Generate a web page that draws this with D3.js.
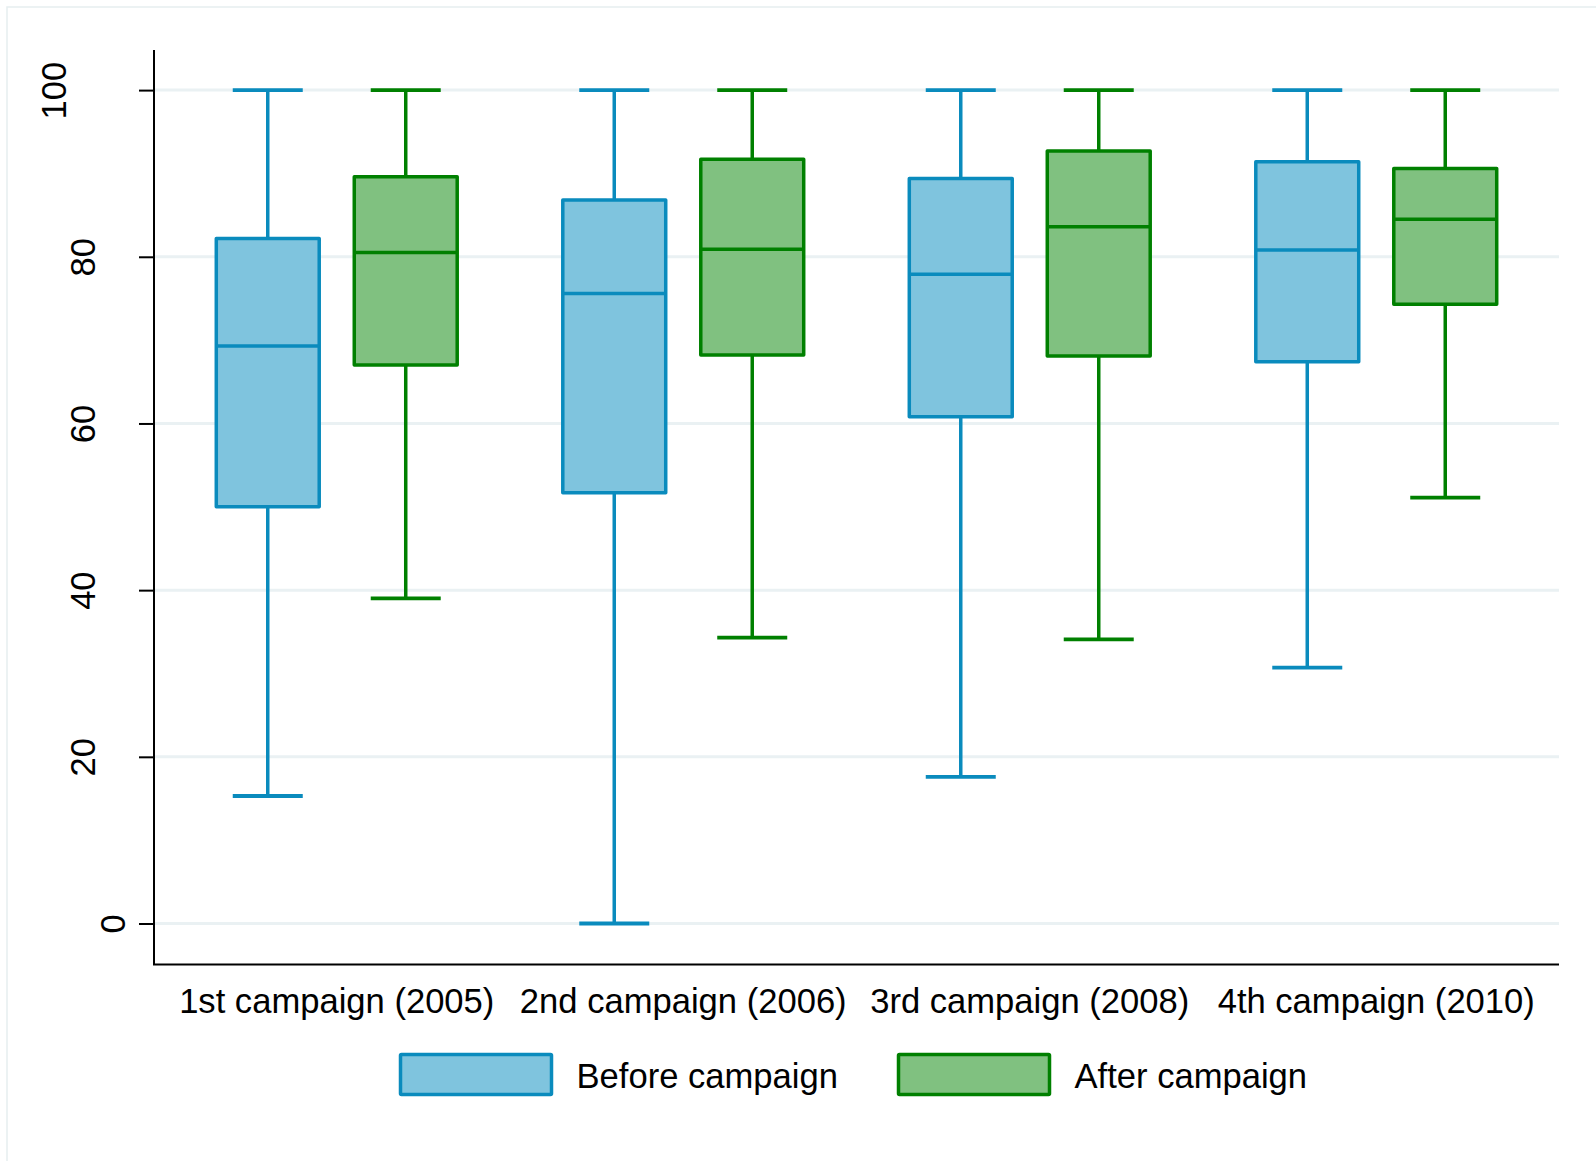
<!DOCTYPE html>
<html>
<head>
<meta charset="utf-8">
<script src="https://cdn.jsdelivr.net/npm/d3@7"></script>
<style>
  html, body { margin: 0; padding: 0; background: #fff; }
  svg { display: block; font-family: "Liberation Sans", Arial, sans-serif; }
</style>
</head>
<body>
<svg id="chart" width="1596" height="1161"></svg>
<script>
// Campaign groups and the two measurement series
const categories = ["1st campaign (2005)", "2nd campaign (2006)", "3rd campaign (2008)", "4th campaign (2010)"];
const seriesNames = ["Before campaign", "After campaign"];

// Box-plot statistics, one value per campaign
const beforeMin = [15.3, 0, 17.6, 30.7];
const beforeQ1  = [50.0, 51.7, 60.8, 67.4];
const beforeMed = [69.3, 75.6, 77.9, 80.8];
const beforeQ3  = [82.2, 86.8, 89.4, 91.4];
const beforeMax = [100, 100, 100, 100];

const afterMin = [39.0, 34.3, 34.1, 51.1];
const afterQ1  = [67.0, 68.2, 68.1, 74.3];
const afterMed = [80.5, 80.9, 83.6, 84.5];
const afterQ3  = [89.6, 91.7, 92.7, 90.6];
const afterMax = [100, 100, 100, 100];

const yTicks = [0, 20, 40, 60, 80, 100];

// Assemble per-box records for drawing
const seriesStats = [
  { name: seriesNames[0], min: beforeMin, q1: beforeQ1, med: beforeMed, q3: beforeQ3, max: beforeMax },
  { name: seriesNames[1], min: afterMin, q1: afterQ1, med: afterMed, q3: afterQ3, max: afterMax }
];
const boxes = [];
categories.forEach((cat, i) => {
  seriesStats.forEach(s => {
    boxes.push({ cat, series: s.name, min: s.min[i], q1: s.q1[i], med: s.med[i], q3: s.q3[i], max: s.max[i] });
  });
});

const style = {
  "Before campaign": { fill: "#7fc4de", stroke: "#0a8bbd" },
  "After campaign":  { fill: "#80c180", stroke: "#008000" }
};

const fontSize = 34.6;
const svg = d3.select("#chart");

// Light outer frame of the graph region
svg.append("rect")
  .attr("x", 7).attr("y", 7).attr("width", 1620).attr("height", 1200)
  .attr("fill", "#fff").attr("stroke", "#e6eef0").attr("stroke-width", 1.5);

const plotLeft = 154, plotRight = 1559, axisTop = 50, axisBottom = 964.5;

const x = d3.scaleBand().domain(categories).range([plotLeft, plotRight])
  .paddingInner(0).paddingOuter(0.0274);
const xs = d3.scaleBand().domain(seriesNames).range([0, x.bandwidth()])
  .paddingInner(0.254).paddingOuter(0.3826);
const y = d3.scaleLinear().domain([0, 100]).range([923.5, 90.1]);

// Horizontal grid lines
svg.append("g")
  .selectAll("line")
  .data(yTicks)
  .join("line")
  .attr("x1", plotLeft).attr("x2", plotRight)
  .attr("y1", d => y(d)).attr("y2", d => y(d))
  .attr("stroke", "#eaf1f3").attr("stroke-width", 3);

// Y axis with rotated labels
const yAxis = svg.append("g")
  .attr("transform", `translate(${plotLeft},0)`)
  .call(d3.axisLeft(y).tickValues(yTicks).tickSize(15).tickFormat(d3.format("d")));
yAxis.select(".domain").remove();
yAxis.selectAll(".tick line").attr("stroke", "#000").attr("stroke-width", 2);
yAxis.selectAll(".tick text")
  .attr("x", null).attr("dy", null)
  .attr("fill", "#000")
  .attr("font-size", fontSize)
  .attr("text-anchor", "middle")
  .attr("transform", d => `translate(${-29.3 * String(d).length},0) rotate(-90)`);

// Axis lines
svg.append("line")
  .attr("x1", plotLeft).attr("x2", plotLeft)
  .attr("y1", axisTop).attr("y2", axisBottom)
  .attr("stroke", "#000").attr("stroke-width", 2);
svg.append("line")
  .attr("x1", plotLeft - 1).attr("x2", plotRight)
  .attr("y1", axisBottom).attr("y2", axisBottom)
  .attr("stroke", "#000").attr("stroke-width", 2);

// Category labels
svg.append("g")
  .selectAll("text")
  .data(categories)
  .join("text")
  .attr("x", d => x(d) + x.bandwidth() / 2)
  .attr("y", 1013)
  .attr("text-anchor", "middle")
  .attr("font-size", fontSize)
  .attr("fill", "#000")
  .text(d => d);

// Boxes with whiskers
const bw = xs.bandwidth();
const capW = 70;
const g = svg.append("g")
  .selectAll("g")
  .data(boxes)
  .join("g")
  .attr("transform", d => `translate(${x(d.cat) + xs(d.series)},0)`);

g.each(function(d) {
  const sel = d3.select(this);
  const c = style[d.series];
  const cx = bw / 2;
  const sw = 3.5;
  // whiskers
  sel.append("line").attr("x1", cx).attr("x2", cx).attr("y1", y(d.q3)).attr("y2", y(d.max))
    .attr("stroke", c.stroke).attr("stroke-width", sw);
  sel.append("line").attr("x1", cx).attr("x2", cx).attr("y1", y(d.q1)).attr("y2", y(d.min))
    .attr("stroke", c.stroke).attr("stroke-width", sw);
  // caps
  sel.append("line").attr("x1", cx - capW / 2).attr("x2", cx + capW / 2).attr("y1", y(d.max)).attr("y2", y(d.max))
    .attr("stroke", c.stroke).attr("stroke-width", 3.8);
  sel.append("line").attr("x1", cx - capW / 2).attr("x2", cx + capW / 2).attr("y1", y(d.min)).attr("y2", y(d.min))
    .attr("stroke", c.stroke).attr("stroke-width", 3.8);
  // box
  sel.append("rect")
    .attr("x", 0).attr("width", bw)
    .attr("y", y(d.q3)).attr("height", y(d.q1) - y(d.q3))
    .attr("fill", c.fill).attr("stroke", c.stroke).attr("stroke-width", sw)
    .attr("stroke-linejoin", "round");
  // median
  sel.append("line").attr("x1", 0).attr("x2", bw).attr("y1", y(d.med)).attr("y2", y(d.med))
    .attr("stroke", c.stroke).attr("stroke-width", sw);
});

// Legend
const legendX = 400.5, legendY = 1054.5, legendStep = 498, swW = 151, swH = 40;
const leg = svg.append("g")
  .selectAll("g")
  .data(seriesNames)
  .join("g")
  .attr("transform", (d, i) => `translate(${legendX + i * legendStep},${legendY})`);
leg.append("rect")
  .attr("width", swW).attr("height", swH)
  .attr("fill", d => style[d].fill)
  .attr("stroke", d => style[d].stroke)
  .attr("stroke-width", 3.5)
  .attr("rx", 1);
leg.append("text")
  .attr("x", swW + 25)
  .attr("y", 33)
  .attr("font-size", fontSize)
  .attr("fill", "#000")
  .text(d => d);
</script>
</body>
</html>
